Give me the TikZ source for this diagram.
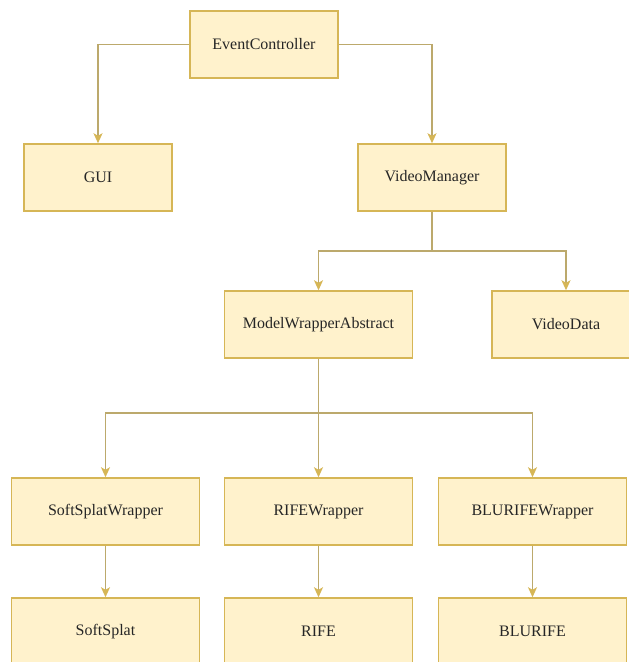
\documentclass[tikz,border=0pt]{standalone}
\usepackage{fontspec}
\setmainfont{Liberation Serif}
\usepackage{xcolor}
\usetikzlibrary{arrows.meta,positioning}

\definecolor{boxfill}{HTML}{FFF2CC}
\definecolor{boxline}{HTML}{D6B656}
\definecolor{linkline}{HTML}{BCA96C}

\begin{document}
\begin{tikzpicture}[
        x=1pt, y=-1pt,
        font=\fontsize{16}{19}\selectfont,
        box/.style={rectangle, draw=boxline, fill=boxfill, line width=1.5pt, minimum width=148pt, minimum height=67pt, inner sep=0pt, text=black!85},
        widebox/.style={box, minimum width=188pt},
        link/.style={draw=linkline, line width=1.5pt, -{Stealth[length=10pt,width=9pt,inset=2.5pt,color=boxline]}}
    ]
        \useasboundingbox (0,0) rectangle (629,662);
        \clip (0,0) rectangle (629,662);

        % Controller on top
        \node[box] (ctrl) at (264,44.5) {EventController};

        % Second row
        \node[box, below=64.5pt of ctrl, xshift=-166pt] (gui) {GUI};
        \node[box, below=64.5pt of ctrl, xshift=168pt] (vman) {VideoManager};

        % Third row
        \node[widebox, below=78.5pt of vman, xshift=-113.5pt] (mwa) {ModelWrapperAbstract};
        \node[box, below=78.5pt of vman, xshift=134pt] (vdata) {VideoData};

        % Wrappers
        \node[widebox, below=118.5pt of mwa] (rifew) {RIFEWrapper};
        \node[widebox, left=23.5pt of rifew] (softw) {SoftSplatWrapper};
        \node[widebox, right=24.5pt of rifew] (blurw) {BLURIFEWrapper};

        % Models
        \node[widebox, below=51.5pt of softw] (soft) {SoftSplat};
        \node[widebox, below=51.5pt of rifew] (rife) {RIFE};
        \node[widebox, below=51.5pt of blurw] (blur) {BLURIFE};

        % Connections
        \draw[link] (ctrl) -| (gui);
        \draw[link] (ctrl) -| (vman);
        \draw[link] (vman.south) -- ++(0,39) coordinate (vbus) -| (mwa.north);
        \draw[link] (vbus) -| (vdata.north);
        \draw[link] (mwa.south) -- ++(0,54) coordinate (mbus) -| (softw.north);
        \draw[link] (mbus) -| (blurw.north);
        \draw[link] (mwa) -- (rifew);
        \draw[link] (softw) -- (soft);
        \draw[link] (rifew) -- (rife);
        \draw[link] (blurw) -- (blur);
\end{tikzpicture}
\end{document}
